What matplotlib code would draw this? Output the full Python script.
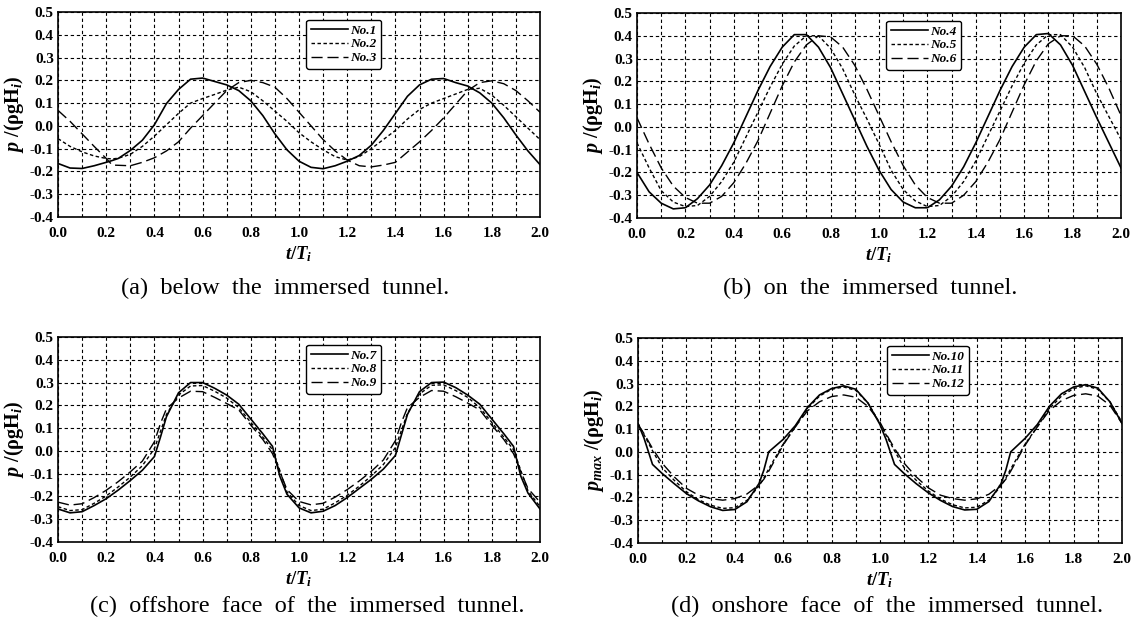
import numpy as np
import matplotlib
matplotlib.use("Agg")
import matplotlib.pyplot as plt
from matplotlib.ticker import MultipleLocator, FormatStrFormatter

plt.rcParams['font.family'] = ['Liberation Serif', 'DejaVu Serif']
plt.rcParams['mathtext.fontset'] = 'custom'
plt.rcParams['mathtext.rm'] = 'Liberation Serif:bold'
plt.rcParams['mathtext.it'] = 'Liberation Serif:italic:bold'
plt.rcParams['mathtext.bf'] = 'Liberation Serif:bold'

# (a) below the immersed tunnel
ta = [0.0, 0.05, 0.1, 0.15, 0.2, 0.225, 0.25, 0.3, 0.35, 0.4, 0.45, 0.5, 0.55, 0.6,
      0.65, 0.7, 0.75, 0.8, 0.85, 0.9, 0.95, 1.0, 1.05, 1.1, 1.15, 1.2, 1.25, 1.3,
      1.35, 1.4, 1.45, 1.5, 1.55, 1.6, 1.65, 1.7, 1.75, 1.8, 1.85, 1.9, 1.95, 2.0]
no1 = [-0.165, -0.185, -0.187, -0.175, -0.16, -0.152, -0.143, -0.108, -0.063, 0.005,
       0.098, 0.16, 0.205, 0.21, 0.195, 0.18, 0.155, 0.11, 0.045, -0.035, -0.105,
       -0.155, -0.182, -0.188, -0.175, -0.155, -0.13, -0.085, -0.02, 0.055, 0.13,
       0.18, 0.205, 0.208, 0.19, 0.175, 0.145, 0.10, 0.035, -0.04, -0.11, -0.17]
no2 = [-0.056, -0.09, -0.114, -0.132, -0.143, -0.145, -0.142, -0.125, -0.09, -0.045,
       0.005, 0.055, 0.1, 0.12, 0.138, 0.157, 0.17, 0.15, 0.11, 0.065, 0.02, -0.03,
       -0.07, -0.105, -0.135, -0.15, -0.135, -0.10, -0.06, -0.02, 0.03, 0.072, 0.10,
       0.12, 0.14, 0.16, 0.165, 0.135, 0.09, 0.04, -0.01, -0.06]
no3 = [0.068, 0.02, -0.035, -0.09, -0.143, -0.172, -0.173, -0.175, -0.16, -0.14,
       -0.11, -0.07, -0.01, 0.045, 0.10, 0.155, 0.19, 0.2, 0.19, 0.17, 0.12, 0.06,
       0.0, -0.06, -0.11, -0.15, -0.175, -0.18, -0.172, -0.16, -0.115, -0.07, -0.02,
       0.035, 0.095, 0.155, 0.19, 0.198, 0.185, 0.155, 0.11, 0.06]

# (b) on the immersed tunnel
tb = [0.0, 0.05, 0.1, 0.15, 0.2, 0.25, 0.3, 0.35, 0.4, 0.45, 0.5, 0.55, 0.6, 0.65,
      0.7, 0.75, 0.8, 0.85, 0.9, 0.95, 1.0, 1.05, 1.1, 1.15, 1.2, 1.25, 1.3, 1.35,
      1.4, 1.45, 1.5, 1.55, 1.6, 1.65, 1.7, 1.75, 1.8, 1.85, 1.9, 1.95, 2.0]
no4 = [-0.20, -0.285, -0.335, -0.36, -0.355, -0.315, -0.255, -0.17, -0.07, 0.045,
       0.16, 0.265, 0.35, 0.405, 0.405, 0.35, 0.26, 0.145, 0.03, -0.085, -0.19,
       -0.275, -0.33, -0.355, -0.355, -0.32, -0.26, -0.175, -0.07, 0.045, 0.16,
       0.265, 0.35, 0.405, 0.41, 0.36, 0.27, 0.155, 0.04, -0.07, -0.18]
no5 = [-0.07, -0.18, -0.28, -0.33, -0.35, -0.345, -0.305, -0.24, -0.155, -0.045,
       0.065, 0.175, 0.275, 0.355, 0.40, 0.40, 0.345, 0.255, 0.14, 0.035, -0.075,
       -0.19, -0.275, -0.325, -0.35, -0.345, -0.305, -0.24, -0.15, -0.04, 0.07,
       0.18, 0.28, 0.36, 0.405, 0.405, 0.35, 0.26, 0.145, 0.045, -0.055]
no6 = [0.04, -0.075, -0.18, -0.26, -0.31, -0.335, -0.335, -0.305, -0.245, -0.16,
       -0.06, 0.06, 0.18, 0.285, 0.36, 0.40, 0.395, 0.35, 0.27, 0.165, 0.05, -0.065,
       -0.17, -0.255, -0.31, -0.335, -0.335, -0.30, -0.24, -0.155, -0.055, 0.065,
       0.185, 0.29, 0.365, 0.40, 0.40, 0.355, 0.275, 0.17, 0.05]

# (c) offshore face of the immersed tunnel
tc = [0.0, 0.05, 0.1, 0.15, 0.2, 0.25, 0.3, 0.35, 0.4, 0.425, 0.45, 0.5, 0.55, 0.6,
      0.65, 0.7, 0.75, 0.8, 0.85, 0.89, 0.92, 0.95, 1.0, 1.05, 1.1, 1.15, 1.2, 1.25,
      1.3, 1.35, 1.4, 1.425, 1.45, 1.5, 1.55, 1.6, 1.65, 1.7, 1.75, 1.8, 1.85, 1.89,
      1.92, 1.95, 2.0]
no7 = [-0.255, -0.272, -0.267, -0.24, -0.21, -0.172, -0.13, -0.085, -0.025, 0.06,
       0.15, 0.255, 0.30, 0.30, 0.275, 0.245, 0.205, 0.14, 0.075, 0.02, -0.11, -0.19,
       -0.25, -0.272, -0.265, -0.24, -0.205, -0.165, -0.125, -0.08, -0.02, 0.07,
       0.16, 0.26, 0.30, 0.302, 0.278, 0.245, 0.205, 0.14, 0.075, 0.02, -0.11,
       -0.185, -0.255]
no8 = [-0.245, -0.262, -0.258, -0.23, -0.198, -0.158, -0.115, -0.065, 0.01, 0.085,
       0.16, 0.245, 0.285, 0.287, 0.262, 0.232, 0.19, 0.125, 0.06, 0.005, -0.085,
       -0.18, -0.24, -0.262, -0.256, -0.228, -0.195, -0.155, -0.11, -0.06, 0.015,
       0.09, 0.165, 0.25, 0.288, 0.29, 0.265, 0.235, 0.19, 0.125, 0.06, 0.005,
       -0.085, -0.175, -0.245]
no9 = [-0.225, -0.238, -0.232, -0.205, -0.173, -0.135, -0.092, -0.045, 0.04, 0.12,
       0.185, 0.232, 0.262, 0.26, 0.235, 0.208, 0.18, 0.113, 0.05, -0.012, -0.09,
       -0.17, -0.222, -0.237, -0.23, -0.203, -0.17, -0.132, -0.09, -0.04, 0.045,
       0.125, 0.19, 0.235, 0.265, 0.262, 0.238, 0.21, 0.18, 0.113, 0.05, -0.012,
       -0.09, -0.165, -0.225]

# (d) onshore face of the immersed tunnel
td = [0.0, 0.025, 0.06, 0.1, 0.15, 0.2, 0.25, 0.3, 0.35, 0.4, 0.45, 0.5, 0.52, 0.54,
      0.6, 0.65, 0.7, 0.75, 0.8, 0.85, 0.9, 0.95, 1.0, 1.025, 1.06, 1.1, 1.15, 1.2,
      1.25, 1.3, 1.35, 1.4, 1.45, 1.5, 1.52, 1.54, 1.6, 1.65, 1.7, 1.75, 1.8, 1.85,
      1.9, 1.95, 2.0]
no10 = [0.125, 0.06, -0.055, -0.095, -0.14, -0.183, -0.215, -0.241, -0.257, -0.253,
        -0.219, -0.139, -0.08, 0.0, 0.055, 0.115, 0.195, 0.25, 0.278, 0.29, 0.275,
        0.215, 0.12, 0.055, -0.055, -0.095, -0.14, -0.18, -0.213, -0.24, -0.255,
        -0.252, -0.218, -0.14, -0.08, 0.0, 0.06, 0.12, 0.2, 0.255, 0.285, 0.295,
        0.28, 0.22, 0.125]
no11 = [0.125, 0.075, 0.005, -0.07, -0.125, -0.175, -0.21, -0.234, -0.248, -0.245,
        -0.213, -0.15, -0.115, -0.075, 0.035, 0.11, 0.19, 0.245, 0.275, 0.285, 0.27,
        0.215, 0.125, 0.075, 0.005, -0.07, -0.125, -0.172, -0.207, -0.232, -0.246,
        -0.243, -0.212, -0.15, -0.115, -0.075, 0.035, 0.11, 0.19, 0.245, 0.278,
        0.29, 0.275, 0.22, 0.13]
no12 = [0.12, 0.08, 0.015, -0.05, -0.11, -0.16, -0.19, -0.205, -0.212, -0.205,
        -0.185, -0.145, -0.12, -0.085, 0.03, 0.11, 0.18, 0.22, 0.243, 0.25, 0.24,
        0.2, 0.13, 0.08, 0.015, -0.05, -0.11, -0.158, -0.19, -0.205, -0.212, -0.206,
        -0.186, -0.145, -0.12, -0.085, 0.03, 0.11, 0.182, 0.225, 0.248, 0.255,
        0.245, 0.205, 0.125]

panels = [
    (ta, [no1, no2, no3], ['No.1', 'No.2', 'No.3'], r'$p$ /(ρgH$_i$)',
     '(a)  below  the  immersed  tunnel.'),
    (tb, [no4, no5, no6], ['No.4', 'No.5', 'No.6'], r'$p$ /(ρgH$_i$)',
     '(b)  on  the  immersed  tunnel.'),
    (tc, [no7, no8, no9], ['No.7', 'No.8', 'No.9'], r'$p$ /(ρgH$_i$)',
     '(c)  offshore  face  of  the  immersed  tunnel.'),
    (td, [no10, no11, no12], ['No.10', 'No.11', 'No.12'], r'$p_{max}$ /(ρgH$_i$)',
     '(d)  onshore  face  of  the  immersed  tunnel.'),
]

# axes boxes in pixels: left, top, right, bottom
boxes = [(58, 12, 540, 217), (637, 13, 1121, 218),
         (58, 337, 540, 542), (638, 338, 1122, 543)]
caption_xy = [(285, 288), (870, 288), (307, 606), (887, 606)]

styles = [dict(ls='-', lw=1.2),
          dict(ls=(0, (2.5, 1.8)), lw=1.0),
          dict(ls=(0, (8, 3.5)), lw=1.0)]

W, H = 1138, 628
fig = plt.figure(figsize=(W / 100, H / 100), dpi=100)

for (t, series, names, ylab, cap), (l, tp, r, b), (cx, cy) in zip(panels, boxes, caption_xy):
    ax = fig.add_axes([l / W, 1 - b / H, (r - l) / W, (b - tp) / H])
    for y, name, st in zip(series, names, styles):
        ax.plot(t, y, color='black', label=name, **st)
    ax.set_xlim(0, 2)
    ax.set_ylim(-0.4, 0.5)
    ax.xaxis.set_major_locator(MultipleLocator(0.2))
    ax.xaxis.set_minor_locator(MultipleLocator(0.1))
    ax.yaxis.set_major_locator(MultipleLocator(0.1))
    ax.xaxis.set_major_formatter(FormatStrFormatter('%.1f'))
    ax.yaxis.set_major_formatter(FormatStrFormatter('%.1f'))
    ax.grid(which='both', color='black', ls=(0, (3, 2.5)), lw=0.8)
    ax.tick_params(which='both', length=0)
    ax.tick_params(axis='x', pad=7)
    ax.tick_params(axis='y', pad=3)
    for lab in ax.get_xticklabels() + ax.get_yticklabels():
        lab.set_fontweight('bold')
        lab.set_fontsize(11)
    for sp in ax.spines.values():
        sp.set_linewidth(1.2)
    ax.set_xlabel(r'$t/T_i$', fontsize=13.5, labelpad=3)
    ax.set_ylabel(ylab, fontsize=14.5, fontweight='bold', labelpad=3)
    leg = ax.legend(loc='upper left', bbox_to_anchor=(0.515, 0.962),
                    prop=dict(family='Liberation Serif', weight='bold',
                              style='italic', size=9.5),
                    handlelength=2.8, handletextpad=0.2, labelspacing=0.12,
                    borderpad=0.35, borderaxespad=0, fancybox=True,
                    framealpha=1, edgecolor='black')
    leg.get_frame().set_linewidth(1.0)
    fig.text(cx / W, 1 - cy / H, cap, ha='center', va='center', fontsize=17.5)

fig.savefig('out.png', dpi=100)
